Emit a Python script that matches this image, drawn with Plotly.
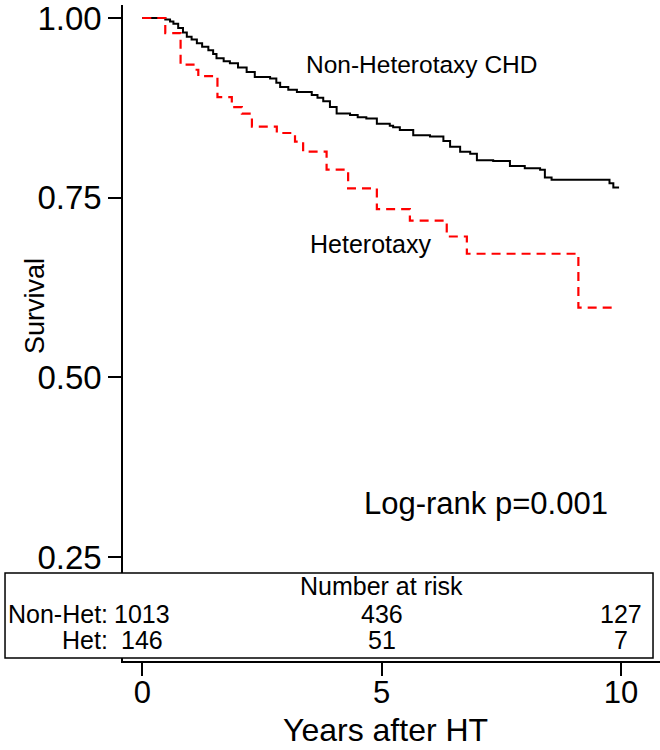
import plotly.graph_objects as go

# Kaplan-Meier step points (years, survival)
non_het_t = [0, 0.48, 0.58, 0.65, 0.75, 0.85, 0.93, 1.03, 1.14, 1.25, 1.38, 1.48, 1.55, 1.70,
             1.83, 2.00, 2.18, 2.35, 2.67, 2.80, 2.88, 3.05, 3.23, 3.54, 3.66, 3.78, 3.92, 4.06,
             4.34, 4.50, 4.68, 4.90, 5.17, 5.24, 5.38, 5.66, 6.01, 6.29, 6.43, 6.64, 6.85, 6.99,
             7.33, 7.68, 7.99, 8.31, 8.41, 8.55, 9.76, 9.84, 9.96]
non_het_s = [1.0, 0.998, 0.995, 0.992, 0.986, 0.980, 0.974, 0.970, 0.965, 0.960, 0.955, 0.950,
             0.944, 0.940, 0.937, 0.931, 0.925, 0.918, 0.916, 0.910, 0.904, 0.900, 0.897, 0.893,
             0.889, 0.884, 0.876, 0.867, 0.865, 0.862, 0.860, 0.853, 0.850, 0.848, 0.844, 0.837,
             0.835, 0.829, 0.821, 0.814, 0.811, 0.802, 0.801, 0.794, 0.791, 0.789, 0.778, 0.775,
             0.770, 0.764, 0.764]

het_t = [0, 0.48, 0.80, 1.10, 1.17, 1.57, 1.87, 2.08, 2.29, 2.81, 3.19, 3.36, 3.85, 4.30,
         4.90, 5.59, 6.36, 6.78, 9.11, 9.87]
het_s = [1.0, 0.979, 0.935, 0.928, 0.919, 0.890, 0.876, 0.867, 0.849, 0.840, 0.828, 0.814,
         0.789, 0.763, 0.734, 0.718, 0.696, 0.672, 0.597, 0.597]

# number at risk table
risk_times = [0, 5, 10]
risk_non_het = [1013, 436, 127]
risk_het = [146, 51, 7]
row_labels = ["Non-Het:", "Het:"]

x_ticks = [0, 5, 10]
y_ticks = [0.25, 0.50, 0.75, 1.00]

FONT = "Arial, Liberation Sans, sans-serif"

fig = go.Figure()
fig.add_trace(go.Scatter(x=non_het_t, y=non_het_s, mode="lines", name="Non-Heterotaxy CHD",
                         line=dict(color="black", width=2, shape="hv")))
fig.add_trace(go.Scatter(x=het_t, y=het_s, mode="lines", name="Heterotaxy",
                         line=dict(color="#ff0000", width=2.2, dash="9px,6px", shape="hv")))

fig.update_layout(
    width=660, height=750,
    margin=dict(l=123, r=0, t=5, b=89),
    plot_bgcolor="white", paper_bgcolor="white",
    showlegend=False,
    font=dict(family=FONT, color="black"),
)
fig.update_xaxes(range=[-0.403, 10.815], showline=True, linecolor="black", linewidth=1.5,
                 ticks="outside", ticklen=13, tickwidth=1.5, tickcolor="black",
                 tickvals=x_ticks, tickfont=dict(size=31), ticklabelstandoff=-10,
                 showgrid=False, zeroline=False, automargin=False)
fig.update_yaxes(range=[0.1053, 1.0181], showline=True, linecolor="black", linewidth=1.5,
                 ticks="outside", ticklen=13, tickwidth=1.5, tickcolor="black",
                 tickvals=y_ticks, tickformat=".2f", tickfont=dict(size=33),
                 ticklabeloverflow="allow", showgrid=False, zeroline=False, automargin=False)

# risk table box sits over the bottom of the plot
fig.add_shape(type="rect", xref="paper", yref="paper", x0=-0.2197, x1=0.987, y0=0.0046, y1=0.134,
              line=dict(color="black", width=1.5), fillcolor="white", layer="above")


def label(x, y, text, size, xref="x", yref="y", xanchor="center", angle=0):
    return dict(x=x, y=y, xref=xref, yref=yref, text=text, font=dict(size=size),
                xanchor=xanchor, yanchor="middle", textangle=angle, showarrow=False)


ann = [
    label(5.83, 0.935, "Non-Heterotaxy CHD", 24.5),
    label(4.76, 0.686, "Heterotaxy", 25),
    label(7.19, 0.325, "Log-rank p=0.001", 31),
    label(5, 0.1136, "Number at risk", 25, yref="paper"),
]
row_y = [0.0724, 0.0313]
for lab, yy, vals in zip(row_labels, row_y, [risk_non_het, risk_het]):
    ann.append(label(-0.0242, yy, lab, 25, xref="paper", yref="paper", xanchor="right"))
    for t, v in zip(risk_times, vals):
        ann.append(label(t, yy, str(v), 25, yref="paper"))
ann.append(label(-0.1639, 0.5412, "Survival", 27, xref="paper", yref="paper", angle=-90))
ann.append(label(0.488, -0.1052, "Years after HT", 32, xref="paper", yref="paper"))
fig.update_layout(annotations=ann)

# drop the default 8px page margin so the figure fills the window exactly
fig.write_html("out.html", config={"displayModeBar": False},
               post_script="document.body.style.margin = '0px';")
